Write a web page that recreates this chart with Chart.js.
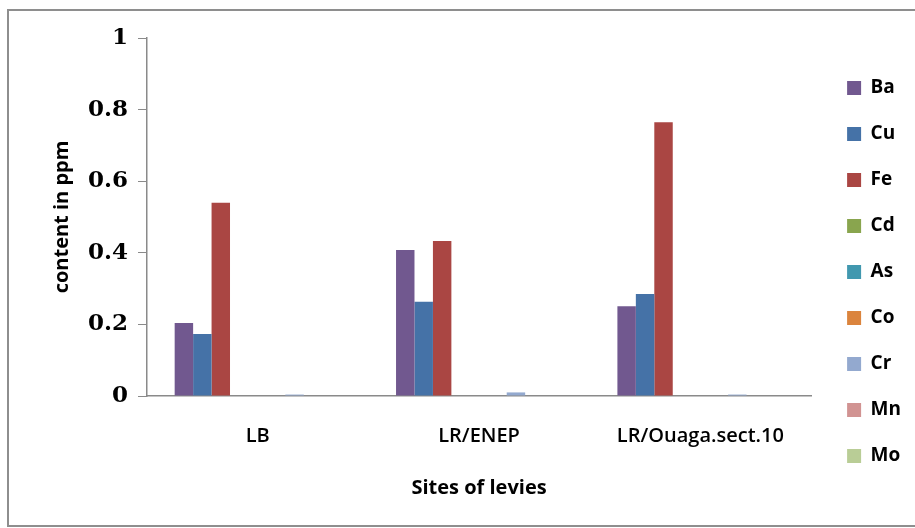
<!DOCTYPE html>
<html>
<head>
<meta charset="utf-8">
<script src="https://cdn.jsdelivr.net/npm/chart.js@4/dist/chart.umd.min.js"></script>
<style>
  html, body { margin: 0; padding: 0; background: #fff; overflow: hidden; }
  #frame { position: absolute; left: 7px; top: 9px; width: 1000px; height: 514px; border: 2px solid #8e8e8e; }
  #wrap { position: absolute; left: 0; top: 0; width: 915px; height: 528px; }
</style>
</head>
<body>
<div id="frame"></div>
<div id="wrap"><canvas id="chart" width="915" height="528"></canvas></div>
<script>
  const sites = ['LB', 'LR/ENEP', 'LR/Ouaga.sect.10'];
  const elements = ['Ba', 'Cu', 'Fe', 'Cd', 'As', 'Co', 'Cr', 'Mn', 'Mo'];
  const colors = ['#71588F', '#4572A7', '#AA4643', '#89A54E', '#4198AF', '#DB843D', '#93A9CF', '#D19392', '#B9CD96'];

  const ba = [0.204, 0.408, 0.251];
  const cu = [0.173, 0.263, 0.285];
  const fe = [0.540, 0.433, 0.765];
  const cd = [0, 0, 0];
  const as = [0, 0, 0];
  const co = [0, 0, 0];
  const cr = [0.004, 0.010, 0.004];
  const mn = [0, 0, 0];
  const mo = [0, 0, 0];
  const yTicks = [0, 0.2, 0.4, 0.6, 0.8, 1];

  const series = [ba, cu, fe, cd, as, co, cr, mn, mo];

  const axisGray = '#8a8a8a';

  const ctx = document.getElementById('chart').getContext('2d');
  new Chart(ctx, {
    type: 'bar',
    data: {
      labels: sites,
      datasets: series.map((values, i) => ({
        label: elements[i],
        data: values,
        backgroundColor: colors[i],
        borderWidth: 0,
        categoryPercentage: 0.75,
        barPercentage: 1.0
      }))
    },
    options: {
      responsive: false,
      animation: false,
      layout: { padding: { left: 0, top: 38, right: 4, bottom: 22 } },
      plugins: {
        legend: {
          position: 'right',
          labels: {
            boxWidth: 14,
            boxHeight: 14,
            padding: 27,
            color: '#000',
            font: { family: 'Open Sans', size: 19, weight: 'bold' }
          }
        },
        tooltip: { enabled: false }
      },
      scales: {
        x: {
          grid: { display: false, drawTicks: false },
          border: { display: true, color: axisGray, width: 1.5 },
          ticks: {
            padding: 28,
            color: '#000',
            font: { family: 'Open Sans', size: 20, weight: '600' }
          },
          title: {
            display: true,
            text: 'Sites of levies',
            color: '#000',
            padding: { top: 0, bottom: 6 },
            font: { family: 'Open Sans', size: 20, weight: 'bold' }
          },
          afterFit: s => { s.height = 110; }
        },
        y: {
          min: 0,
          max: 1,
          afterBuildTicks: s => { s.ticks = yTicks.map(v => ({ value: v })); },
          grid: { drawOnChartArea: false, drawTicks: true, tickLength: 9, color: axisGray },
          border: { display: true, color: axisGray, width: 1.5 },
          ticks: {
            padding: 10,
            color: '#000',
            font: { family: 'DejaVu Serif', size: 23, weight: 'bold' },
            callback: v => String(v)
          },
          title: {
            display: true,
            text: 'content in ppm',
            color: '#000',
            padding: { top: 50, bottom: 0 },
            font: { family: 'Open Sans', size: 20, weight: 'bold' }
          },
          afterFit: s => { s.width = 147; }
        },
        gap: {
          type: 'linear',
          position: 'right',
          display: true,
          grid: { display: false },
          border: { display: false },
          ticks: { display: false },
          afterFit: s => { s.width = 9; }
        }
      }
    }
  });
</script>
</body>
</html>
